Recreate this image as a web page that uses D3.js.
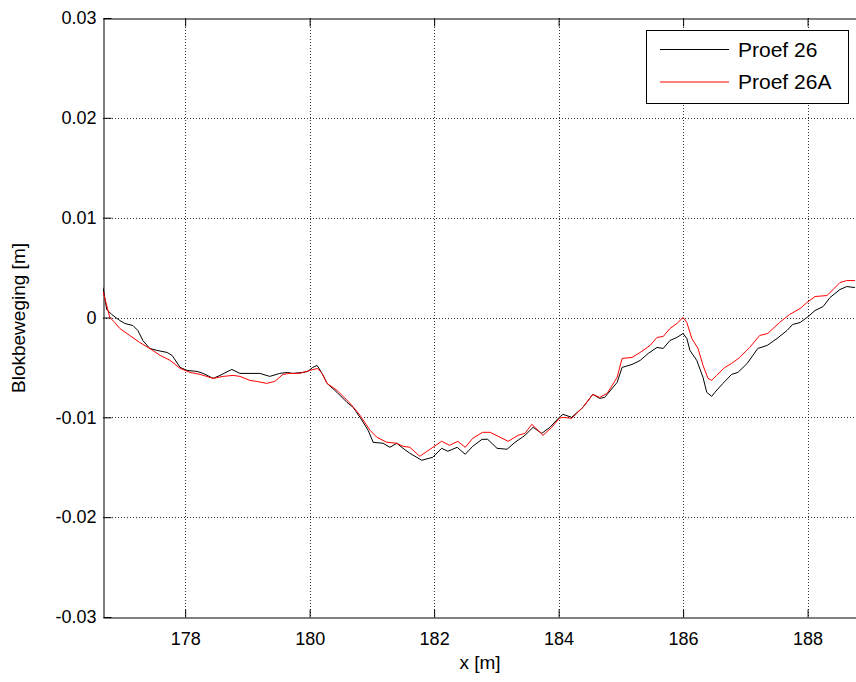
<!DOCTYPE html>
<html><head><meta charset="utf-8">
<script src="https://cdn.jsdelivr.net/npm/d3@7"></script>
<style>body{margin:0;background:#fff}svg{display:block}text{font-family:"Liberation Sans",Arial,sans-serif}</style>
</head><body>
<svg id="c" width="856" height="682"></svg>
<script>
const xTicks = [178, 180, 182, 184, 186, 188];
const yTicks = [-0.03, -0.02, -0.01, 0, 0.01, 0.02, 0.03];
const yTickLabels = ["-0.03", "-0.02", "-0.01", "0", "0.01", "0.02", "0.03"];
const seriesNames = ["Proef 26", "Proef 26A"];
const seriesColors = ["#000000", "#ff0000"];

const xP26 = [176.68,176.74,176.82,176.95,177.03,177.16,177.24,177.32,177.43,177.55,177.71,177.79,177.92,178.03,178.19,178.29,178.45,178.56,178.75,178.88,179.04,179.20,179.36,179.52,179.64,179.73,179.89,179.97,180.05,180.12,180.20,180.28,180.44,180.60,180.70,180.81,180.94,181.02,181.18,181.29,181.40,181.50,181.61,181.80,181.98,182.12,182.22,182.37,182.50,182.62,182.77,182.86,183.01,183.17,183.30,183.46,183.59,183.73,183.86,184.01,184.07,184.21,184.39,184.55,184.66,184.74,184.94,185.02,185.18,185.31,185.44,185.58,185.68,185.79,185.90,186.00,186.06,186.11,186.22,186.32,186.38,186.46,186.51,186.64,186.78,186.88,187.03,187.20,187.35,187.51,187.67,187.76,187.88,187.99,188.12,188.25,188.36,188.52,188.63,188.76];
const yP26 = [0.0030,0.0008,0.0003,-0.0003,-0.0006,-0.0008,-0.0013,-0.0023,-0.0031,-0.0033,-0.0035,-0.0038,-0.0050,-0.0053,-0.0054,-0.0056,-0.0061,-0.0058,-0.0052,-0.0056,-0.0056,-0.0056,-0.0059,-0.0056,-0.0055,-0.0056,-0.0055,-0.0054,-0.0050,-0.0048,-0.0056,-0.0066,-0.0075,-0.0085,-0.0090,-0.0100,-0.0113,-0.0125,-0.0126,-0.0130,-0.0126,-0.0131,-0.0136,-0.0143,-0.0140,-0.0131,-0.0134,-0.0130,-0.0137,-0.0129,-0.0122,-0.0122,-0.0131,-0.0132,-0.0125,-0.0118,-0.0110,-0.0116,-0.0110,-0.0100,-0.0097,-0.0100,-0.0090,-0.0077,-0.0081,-0.0080,-0.0065,-0.0050,-0.0047,-0.0043,-0.0036,-0.0030,-0.0031,-0.0023,-0.0020,-0.0016,-0.0021,-0.0033,-0.0043,-0.0060,-0.0075,-0.0079,-0.0075,-0.0066,-0.0057,-0.0055,-0.0046,-0.0031,-0.0028,-0.0021,-0.0013,-0.0007,-0.0005,0.0000,0.0007,0.0011,0.0020,0.0028,0.0031,0.0030];

const xP26A = [176.68,176.79,176.87,176.95,177.11,177.27,177.43,177.60,177.76,177.92,178.08,178.24,178.45,178.61,178.77,178.88,179.04,179.15,179.31,179.44,179.57,179.68,179.84,180.00,180.13,180.20,180.28,180.44,180.65,180.81,180.97,181.08,181.24,181.40,181.50,181.61,181.77,181.98,182.12,182.25,182.38,182.50,182.62,182.78,182.90,183.06,183.19,183.35,183.46,183.57,183.75,183.89,184.01,184.07,184.21,184.39,184.55,184.66,184.78,184.94,185.02,185.18,185.31,185.47,185.58,185.68,185.79,185.90,186.00,186.06,186.14,186.24,186.32,186.40,186.46,186.54,186.67,186.78,186.91,187.07,187.23,187.36,187.55,187.71,187.88,187.99,188.12,188.31,188.41,188.52,188.63,188.76];
const yP26A = [0.0026,0.0000,-0.0005,-0.0011,-0.0018,-0.0025,-0.0031,-0.0038,-0.0043,-0.0051,-0.0055,-0.0057,-0.0061,-0.0059,-0.0058,-0.0059,-0.0063,-0.0064,-0.0066,-0.0064,-0.0057,-0.0056,-0.0056,-0.0053,-0.0051,-0.0056,-0.0066,-0.0073,-0.0086,-0.0098,-0.0113,-0.0120,-0.0125,-0.0126,-0.0129,-0.0130,-0.0139,-0.0130,-0.0124,-0.0128,-0.0124,-0.0130,-0.0121,-0.0115,-0.0115,-0.0120,-0.0124,-0.0118,-0.0116,-0.0107,-0.0118,-0.0110,-0.0101,-0.0100,-0.0101,-0.0090,-0.0077,-0.0080,-0.0076,-0.0060,-0.0041,-0.0040,-0.0035,-0.0028,-0.0020,-0.0019,-0.0011,-0.0006,0.0000,-0.0005,-0.0021,-0.0031,-0.0048,-0.0061,-0.0063,-0.0058,-0.0050,-0.0046,-0.0040,-0.0030,-0.0018,-0.0016,-0.0005,0.0003,0.0009,0.0015,0.0021,0.0022,0.0028,0.0035,0.0037,0.0037];

const L = 103, T = 18, R = 858, B = 617;
const fs = 18;
const svg = d3.select("#c");
const x = d3.scaleLinear().domain([176.68, 188.81]).range([L, R]);
const y = d3.scaleLinear().domain([-0.03, 0.03]).range([B, T]);

// grid
const g = svg.append("g");
g.selectAll(".vg").data(xTicks).join("line")
  .attr("x1", d => Math.round(x(d)) + 0.5).attr("x2", d => Math.round(x(d)) + 0.5)
  .attr("y1", T).attr("y2", B)
  .attr("stroke", "#000").attr("stroke-width", 1).attr("stroke-dasharray", "1,2").attr("opacity", 0.8);
g.selectAll(".hg").data(yTicks.slice(1, -1)).join("line")
  .attr("y1", d => Math.round(y(d)) + 0.5).attr("y2", d => Math.round(y(d)) + 0.5)
  .attr("x1", L).attr("x2", R)
  .attr("stroke", "#000").attr("stroke-width", 1).attr("stroke-dasharray", "1,2").attr("opacity", 0.8);

// axes with inward ticks
const xAxB = d3.axisBottom(x).tickValues(xTicks).tickSizeInner(-8).tickSizeOuter(0).tickPadding(15).tickFormat(d3.format("d"));
const xAxT = d3.axisTop(x).tickValues(xTicks).tickSizeInner(-8).tickSizeOuter(0).tickFormat("");
const yAxL = d3.axisLeft(y).tickValues(yTicks).tickSizeInner(-8).tickSizeOuter(0).tickPadding(7).tickFormat((d, i) => yTickLabels[i]);

const gb = svg.append("g").attr("transform", `translate(0,${B + 0.5})`).call(xAxB);
const gt = svg.append("g").attr("transform", `translate(0,${T + 0.5})`).call(xAxT);
const gl = svg.append("g").attr("transform", `translate(${L + 0.5},0)`).call(yAxL);
[gb, gt, gl].forEach(a => {
  a.select(".domain").attr("stroke", "#000");
  a.selectAll(".tick line").attr("stroke", "#000");
  a.selectAll("text").attr("font-size", fs).attr("fill", "#000").style("font-family", '"Liberation Sans",Arial,sans-serif');
});

// lines
const clip = svg.append("clipPath").attr("id", "cp").append("rect").attr("x", L).attr("y", T).attr("width", R - L).attr("height", B - T);
const line = d3.line().x(d => x(d[0])).y(d => y(d[1]));
const data = [d3.zip(xP26, yP26), d3.zip(xP26A, yP26A)];
svg.append("g").attr("clip-path", "url(#cp)").selectAll("path").data(data).join("path")
  .attr("d", line).attr("fill", "none")
  .attr("stroke", (d, i) => seriesColors[i]).attr("stroke-width", 1);

// legend
const lg = svg.append("g");
lg.append("rect").attr("x", 646.5).attr("y", 30.5).attr("width", 202).attr("height", 73)
  .attr("fill", "#fff").attr("stroke", "#000");
seriesNames.forEach((n, i) => {
  const yy = 49.5 + i * 32.5;
  lg.append("line").attr("x1", 660).attr("x2", 729).attr("y1", yy).attr("y2", yy).attr("stroke", seriesColors[i]);
  lg.append("text").attr("x", 738).attr("y", yy).attr("dy", "0.35em").attr("font-size", 21).text(n);
});

// labels
svg.append("text").attr("x", 480).attr("y", 662).attr("dy", "0.35em").attr("text-anchor", "middle").attr("font-size", 19).text("x [m]");
svg.append("text").attr("transform", "translate(18,318) rotate(-90)").attr("dy", "0.35em").attr("text-anchor", "middle").attr("font-size", 19).text("Blokbeweging [m]");
</script>
</body></html>
